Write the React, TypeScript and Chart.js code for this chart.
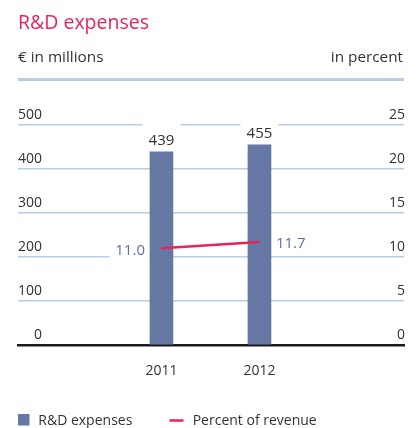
import React, { useEffect, useRef } from 'react';
import { Chart, registerables } from 'chart.js';

Chart.register(...registerables);

// ---- data ----
const years = [2011, 2012];
const expenses = [439, 455];
const percentOfRevenue = [11.0, 11.7];
const leftTickStep = 100;
const leftMax = 500;
const rightTickStep = 5;
const rightMax = 25;

const TITLE = 'R&D expenses';
const LEFT_UNIT = '€ in millions';
const RIGHT_UNIT = 'in percent';
const LEGEND_BAR = 'R&D expenses';
const LEGEND_LINE = 'Percent of revenue';

// ---- styles ----
const FONT = "'Open Sans', 'Noto Sans', sans-serif";
const BAR = '#6577a3';
const PINK = '#e8235a';
const GRID = '#b7cde6';
const TEXT = '#333333';
const VALUE_BLUE = '#5e71a0';

const extras = {
  id: 'extras',
  beforeDatasetsDraw(chart: any) {
    const ctx = chart.ctx;
    ctx.save();
    ctx.fillStyle = '#ffffff';
    const barMeta = chart.getDatasetMeta(1);
    barMeta.data.forEach((bar: any) => {
      ctx.fillRect(bar.x - 19, bar.y - 30, 38, 30);
    });
    const lineMeta = chart.getDatasetMeta(0);
    const p0 = lineMeta.data[0];
    ctx.fillRect(p0.x - 52, p0.y - 12, 40, 24);
    ctx.restore();
  },
  afterDatasetsDraw(chart: any) {
    const ctx = chart.ctx;
    ctx.save();
    ctx.textBaseline = 'alphabetic';
    ctx.font = `15px ${FONT}`;
    ctx.fillStyle = TEXT;
    ctx.textAlign = 'center';
    const barMeta = chart.getDatasetMeta(1);
    barMeta.data.forEach((bar: any, i: number) => {
      ctx.fillText(String(expenses[i]), bar.x, bar.y - 6.5);
    });
    ctx.fillStyle = VALUE_BLUE;
    const lineMeta = chart.getDatasetMeta(0);
    lineMeta.data.forEach((pt: any, i: number) => {
      const txt = percentOfRevenue[i].toFixed(1);
      if (i === 0) {
        ctx.textAlign = 'right';
        ctx.fillText(txt, pt.x - 16.5, pt.y + 6.3);
      } else {
        ctx.textAlign = 'left';
        ctx.fillText(txt, pt.x + 16.5, pt.y + 6.4);
      }
    });
    ctx.restore();
  },
  afterDraw(chart: any) {
    const ctx = chart.ctx;
    const area = chart.chartArea;
    ctx.save();
    ctx.textBaseline = 'alphabetic';
    ctx.font = `19.5px ${FONT}`;
    ctx.fillStyle = PINK;
    ctx.textAlign = 'left';
    ctx.fillText(TITLE, area.left, 29);
    ctx.font = `15.3px ${FONT}`;
    ctx.fillStyle = TEXT;
    ctx.fillText(LEFT_UNIT, area.left, 61.5);
    ctx.textAlign = 'right';
    ctx.fillText(RIGHT_UNIT, area.right - 1, 61.5);
    ctx.strokeStyle = GRID;
    ctx.lineWidth = 3;
    ctx.beginPath();
    ctx.moveTo(area.left, 79.5);
    ctx.lineTo(area.right, 79.5);
    ctx.stroke();
    ctx.fillStyle = BAR;
    ctx.fillRect(area.left, 414, 11.5, 11.5);
    ctx.font = `14px ${FONT}`;
    ctx.fillStyle = TEXT;
    ctx.textAlign = 'left';
    ctx.fillText(LEGEND_BAR, 38.3, 425);
    ctx.strokeStyle = PINK;
    ctx.lineWidth = 2.5;
    ctx.beginPath();
    ctx.moveTo(169.5, 420.5);
    ctx.lineTo(183.5, 420.5);
    ctx.stroke();
    ctx.fillText(LEGEND_LINE, 192.7, 425);
    ctx.restore();
  },
};

export default function App() {
  const ref = useRef<HTMLCanvasElement>(null);
  useEffect(() => {
    const tickFont = { family: FONT, size: 14 };
    const chart = new Chart(ref.current as HTMLCanvasElement, {
      type: 'bar',
      data: {
        datasets: [
          {
            type: 'line',
            label: LEGEND_LINE,
            data: years.map((x, i) => ({ x, y: percentOfRevenue[i] })),
            yAxisID: 'y1',
            borderColor: PINK,
            backgroundColor: PINK,
            borderWidth: 2.5,
            pointRadius: 0,
            order: 0,
          } as any,
          {
            type: 'bar',
            label: LEGEND_BAR,
            data: years.map((x, i) => ({ x, y: expenses[i] })),
            yAxisID: 'y',
            backgroundColor: BAR,
            barThickness: 23,
            order: 1,
          } as any,
        ],
      },
      options: {
        animation: false,
        responsive: false,
        events: [],
        layout: { padding: { top: 125, left: 18, right: 13, bottom: 31 } },
        plugins: {
          legend: { display: false },
          title: { display: false },
          tooltip: { enabled: false },
        },
        scales: {
          x: {
            type: 'linear',
            offset: false,
            bounds: 'data',
            min: 2009.536,
            max: 2013.475,
            afterBuildTicks: (s: any) => {
              s.ticks = years.map((v) => ({ value: v }));
            },
            grid: { display: false, drawTicks: false, offset: false },
            border: { display: true, color: '#1a1a1a', width: 2.5 },
            ticks: {
              callback: (v: any) => String(v),
              padding: 17.6,
              font: tickFont,
              color: TEXT,
              maxRotation: 0,
              autoSkip: false,
            },
          },
          y: {
            type: 'linear',
            position: 'left',
            min: 0,
            max: leftMax,
            grid: {
              drawTicks: false,
              lineWidth: 1.5,
              color: (c: any) => (c.tick && c.tick.value === 0 ? 'rgba(0,0,0,0)' : GRID),
            },
            border: { display: false },
            ticks: {
              stepSize: leftTickStep,
              mirror: true,
              crossAlign: 'far',
              padding: 0,
              labelOffset: -10,
              font: tickFont,
              color: TEXT,
            },
          },
          y1: {
            type: 'linear',
            position: 'right',
            min: 0,
            max: rightMax,
            grid: { display: false, drawTicks: false },
            border: { display: false },
            ticks: {
              stepSize: rightTickStep,
              mirror: true,
              padding: 1,
              labelOffset: -10,
              font: tickFont,
              color: TEXT,
            },
          },
        },
      } as any,
      plugins: [extras],
    });
    return () => chart.destroy();
  }, []);
  return (
    <div style={{ position: 'fixed', left: 0, top: 0, width: 419, height: 428, background: '#ffffff' }}>
      <canvas ref={ref} width={419} height={428} style={{ display: 'block', width: 419, height: 428 }} />
    </div>
  );
}
